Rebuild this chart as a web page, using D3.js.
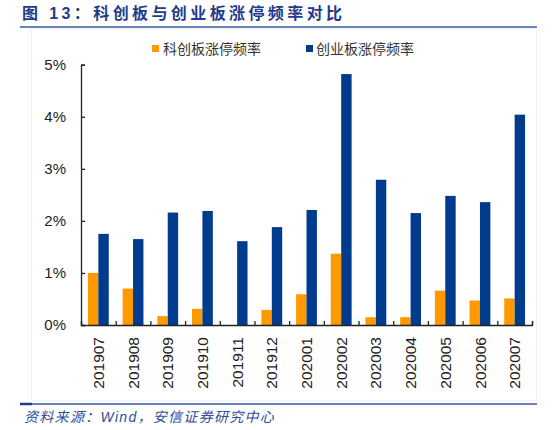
<!DOCTYPE html>
<html>
<head>
<meta charset="utf-8">
<script src="https://cdn.jsdelivr.net/npm/d3@7"></script>
<style>
  body { margin:0; background:#fff; }
  text { font-family: "Liberation Sans", Arial, "Noto Sans CJK SC", sans-serif; }
  .cjk { font-family: "Liberation Sans", "Noto Sans CJK SC", sans-serif; }
</style>
</head>
<body>
<div id="chart"></div>
<script>
const months = ["201907","201908","201909","201910","201911","201912","202001",
                "202002","202003","202004","202005","202006","202007"];
const starRate  = [1.00,0.70,0.17,0.31,0.00,0.29,0.59,1.37,0.15,0.15,0.66,0.47,0.51]; // 科创板 %
const chinextRate = [1.75,1.65,2.16,2.19,1.61,1.88,2.21,4.82,2.79,2.15,2.48,2.36,4.04]; // 创业板 %
const seriesNames = ["科创板涨停频率","创业板涨停频率"];
const yTicks = [0,1,2,3,4,5];

const colors = ["#FF9900","#003B8E"];
const W = 554, H = 430;
const plot = {left:81, right:532, top:64.7, bottom:325};

const svg = d3.select("#chart").append("svg")
  .attr("width",W).attr("height",H);

// faint chart area frame
svg.append("rect")
  .attr("x",31.5).attr("y",28.5).attr("width",505).attr("height",372)
  .attr("fill","none").attr("stroke","#f2f2f2");

// title
svg.append("text")
  .attr("class","cjk")
  .attr("x",22).attr("y",19)
  .attr("font-size","16px").attr("font-weight","bold")
  .attr("fill","#1F3C8C")
  .attr("letter-spacing","3.4px")
  .text("图 13：科创板与创业板涨停频率对比");

svg.append("line")
  .attr("x1",20).attr("x2",537).attr("y1",27).attr("y2",27)
  .attr("stroke","#3A5AA6").attr("stroke-width",1.5);

const data = months.map((m,i)=>({m, vals:[starRate[i], chinextRate[i]]}));

const x = d3.scaleBand().domain(months)
  .range([plot.left, plot.right]).paddingInner(0.4).paddingOuter(0.2);
const xs = d3.scaleBand().domain([0,1]).range([0, x.bandwidth()]);
const y = d3.scaleLinear().domain([0,5]).range([plot.bottom, plot.top]);
const xEdge = d3.scaleLinear().domain([0, months.length]).range([plot.left, plot.right]);

// bars
const grp = svg.append("g").selectAll("g").data(data).join("g")
  .attr("transform", d=>`translate(${x(d.m)},0)`);
grp.selectAll("rect").data(d=>d.vals).join("rect")
  .attr("x",(v,i)=>xs(i))
  .attr("width",xs.bandwidth())
  .attr("y",v=>y(v))
  .attr("height",v=>y(0)-y(v))
  .attr("fill",(v,i)=>colors[i]);

// y axis
const yAxis = svg.append("g")
  .attr("transform",`translate(${plot.left},0)`)
  .call(d3.axisLeft(y).tickValues(yTicks).tickSize(-4).tickPadding(15)
        .tickFormat(d=>d+"%"));
yAxis.select(".domain").attr("stroke","#222").attr("stroke-width",1.3);
yAxis.selectAll(".tick line").attr("stroke","#222").attr("stroke-width",1.3);
yAxis.selectAll("text").attr("font-size","15px").attr("fill","#222");

// x axis ticks at category boundaries
const xTickAxis = svg.append("g")
  .attr("transform",`translate(0,${plot.bottom})`)
  .call(d3.axisBottom(xEdge).tickValues(d3.range(0, months.length+1))
        .tickSize(-4).tickFormat(""));
xTickAxis.select(".domain").attr("stroke","#222").attr("stroke-width",1.3);
xTickAxis.selectAll(".tick line").attr("stroke","#222").attr("stroke-width",1.3);

// x labels
const xLab = svg.append("g")
  .attr("transform",`translate(0,${plot.bottom})`)
  .call(d3.axisBottom(x).tickSize(0).tickPadding(0));
xLab.select(".domain").remove();
xLab.selectAll("text")
  .attr("transform","rotate(-90)")
  .attr("x",-12).attr("y",0).attr("dy","0.36em")
  .style("text-anchor","end")
  .attr("font-size","15.5px").attr("fill","#222");

// legend
const legendPos = [{sx:152, tx:163},{sx:306, tx:316}];
const lg = svg.append("g").selectAll("g").data(seriesNames).join("g");
lg.append("rect")
  .attr("x",(d,i)=>legendPos[i].sx).attr("y",45)
  .attr("width",7).attr("height",7)
  .attr("fill",(d,i)=>colors[i]);
lg.append("text")
  .attr("class","cjk")
  .attr("x",(d,i)=>legendPos[i].tx).attr("y",49)
  .attr("dy","0.35em")
  .attr("font-size","14px").attr("fill","#333")
  .text(d=>d);

// footer
svg.append("line")
  .attr("x1",20).attr("x2",537).attr("y1",404).attr("y2",404)
  .attr("stroke","#3A5AA6").attr("stroke-width",1.5);
svg.append("line")
  .attr("x1",20).attr("x2",32).attr("y1",404).attr("y2",404)
  .attr("stroke","#1F3C8C").attr("stroke-width",2.5);

svg.append("text")
  .attr("class","cjk")
  .attr("x",24).attr("y",422)
  .attr("font-size","14px").attr("font-style","italic")
  .attr("fill","#2E4E9A")
  .attr("letter-spacing","1.3px")
  .text("资料来源：Wind，安信证券研究中心");
</script>
</body>
</html>
